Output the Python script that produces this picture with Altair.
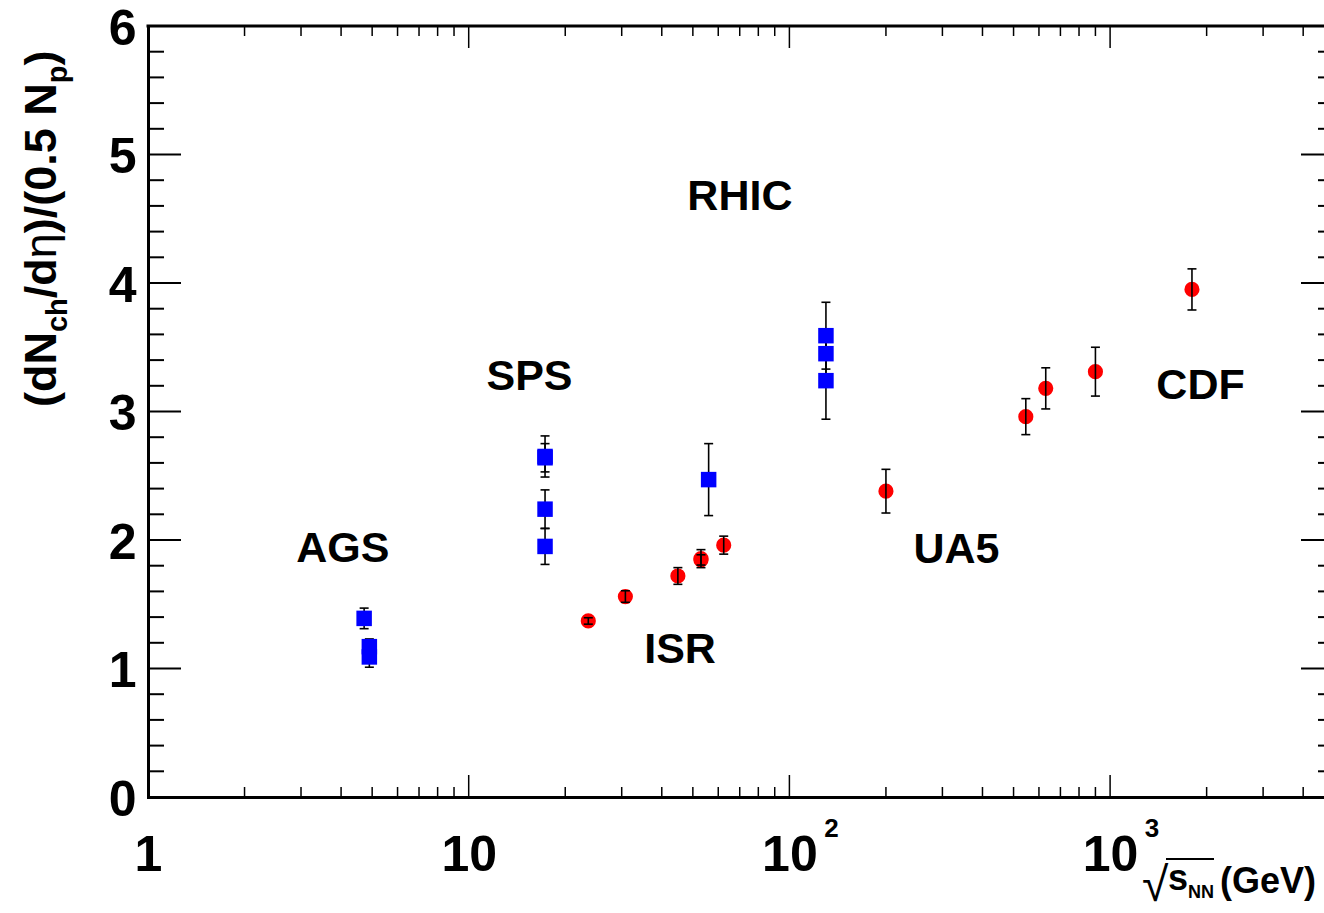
import altair as alt
import pandas as pd

# ---------------- data ----------------
# nucleus-nucleus collisions (blue squares): sqrt(s_NN) [GeV], value, symmetric error
aa_sqrt_s = [4.72, 4.90, 4.90, 17.3, 17.3, 17.3, 17.3, 56.0, 130.0, 130.0, 130.0]
aa_value = [1.39, 1.17, 1.09, 2.65, 2.64, 2.24, 1.95, 2.47, 3.59, 3.45, 3.24]
aa_error = [0.08, 0.06, 0.08, 0.16, 0.11, 0.15, 0.14, 0.28, 0.26, 0.17, 0.30]

# p-p / p-pbar collisions (red circles)
pp_sqrt_s = [23.6, 30.8, 44.9, 53.0, 53.0, 62.4, 200.0, 546.0, 630.0, 900.0, 1800.0]
pp_value = [1.37, 1.56, 1.72, 1.855, 1.845, 1.96, 2.38, 2.96, 3.18, 3.31, 3.95]
pp_error = [0.025, 0.045, 0.065, 0.07, 0.04, 0.07, 0.17, 0.14, 0.16, 0.19, 0.16]

# experiment labels (data coordinates)
label_text = ["AGS", "SPS", "RHIC", "ISR", "UA5", "CDF"]
label_x = [4.05, 15.47, 70.1, 45.6, 332.0, 1914.0]
label_y = [1.927, 3.272, 4.666, 1.146, 1.924, 3.202]

# axis ticks
x_major = [1, 10, 100, 1000]
x_minor = [2, 3, 4, 5, 6, 7, 8, 9,
           20, 30, 40, 50, 60, 70, 80, 90,
           200, 300, 400, 500, 600, 700, 800, 900,
           2000, 3000, 4000]
x_exp_at = [100, 1000]
x_exp_text = ["2", "3"]
y_major = [0, 1, 2, 3, 4, 5, 6]
y_minor = [0.2, 0.4, 0.6, 0.8, 1.2, 1.4, 1.6, 1.8, 2.2, 2.4, 2.6, 2.8,
           3.2, 3.4, 3.6, 3.8, 4.2, 4.4, 4.6, 4.8, 5.2, 5.4, 5.6, 5.8]

# ---------------- layout ----------------
W, H = 1176, 771
PAD_L, PAD_T, PAD_B = 148, 26, 113
XMAX = 4645
FRAME_R = 1186  # right frame lies just outside the visible area
FONT = "Liberation Sans"
BLACK = "#000000"

xs = alt.Scale(type="log", domain=[1, XMAX], nice=False)
ys = alt.Scale(domain=[0, 6], nice=False, zero=False)

aa = pd.DataFrame({"x": aa_sqrt_s, "y": aa_value, "e": aa_error})
aa["lo"] = aa["y"] - aa["e"]
aa["hi"] = aa["y"] + aa["e"]
pp = pd.DataFrame({"x": pp_sqrt_s, "y": pp_value, "e": pp_error})
pp["lo"] = pp["y"] - pp["e"]
pp["hi"] = pp["y"] + pp["e"]
labels = pd.DataFrame({"t": label_text, "x": label_x, "y": label_y})
xmaj = pd.DataFrame({"v": x_major})
xmin = pd.DataFrame({"v": x_minor})
ymaj = pd.DataFrame({"v": y_major})
ymin = pd.DataFrame({"v": y_minor})
xexp = pd.DataFrame({"v": x_exp_at, "t": x_exp_text})
one = pd.DataFrame({"a": [0]})

x_axis = alt.Axis(values=x_major, labelExpr="datum.value == 1 ? '1' : '10'",
                  ticks=False, tickSize=0, grid=False, domain=True,
                  domainColor=BLACK, domainWidth=3, domainCap="square",
                  labelFont=FONT, labelFontWeight="bold", labelFontSize=50,
                  labelColor=BLACK, labelPadding=73, labelBaseline="alphabetic",
                  labelAlign="center", labelFlush=False, labelOverlap=False,
                  labelBound=False, title=None)
y_axis = alt.Axis(values=y_major, format="d", ticks=False, tickSize=0, grid=False,
                  domain=True, domainColor=BLACK, domainWidth=3, domainCap="square",
                  labelFont=FONT, labelFontWeight="bold", labelFontSize=50,
                  labelColor=BLACK, labelPadding=12, labelBaseline="alphabetic",
                  labelOffset=18, labelFlush=False, labelOverlap=False,
                  labelBound=False, title=None)

X = lambda f: alt.X(f, type="quantitative", scale=xs, axis=x_axis)
Y = lambda f: alt.Y(f, type="quantitative", scale=ys, axis=y_axis)

layers = []

# red circles
layers.append(alt.Chart(pp).mark_circle(size=230, color="#ff0000", opacity=1).encode(
    x=X("x"), y=Y("y")))
# red error bars
layers.append(alt.Chart(pp).mark_rule(color=BLACK, strokeWidth=1.6).encode(
    x=X("x"), y=Y("lo"), y2="hi"))
layers.append(alt.Chart(pp).mark_tick(orient="horizontal", size=9, thickness=1.6, color=BLACK, opacity=1).encode(
    x=X("x"), y=Y("lo")))
layers.append(alt.Chart(pp).mark_tick(orient="horizontal", size=9, thickness=1.6, color=BLACK, opacity=1).encode(
    x=X("x"), y=Y("hi")))
# blue error bars then squares
layers.append(alt.Chart(aa).mark_rule(color=BLACK, strokeWidth=1.6).encode(
    x=X("x"), y=Y("lo"), y2="hi"))
layers.append(alt.Chart(aa).mark_tick(orient="horizontal", size=9, thickness=1.6, color=BLACK, opacity=1).encode(
    x=X("x"), y=Y("lo")))
layers.append(alt.Chart(aa).mark_tick(orient="horizontal", size=9, thickness=1.6, color=BLACK, opacity=1).encode(
    x=X("x"), y=Y("hi")))
layers.append(alt.Chart(aa).mark_point(shape="square", filled=True, size=240, color="#0000ff",
                                       opacity=1, strokeWidth=0).encode(
    x=X("x"), y=Y("y")))

# inward ticks: bottom / top
for df, ln in ((xmaj, 22), (xmin, 10)):
    layers.append(alt.Chart(df).mark_rule(color=BLACK, strokeWidth=1.5).encode(
        x=X("v"), y=alt.value(H), y2=alt.value(H - ln)))
    layers.append(alt.Chart(df).mark_rule(color=BLACK, strokeWidth=1.5).encode(
        x=X("v"), y=alt.value(0), y2=alt.value(ln)))
# inward ticks: left / right
for df, ln in ((ymaj, 33), (ymin, 16)):
    layers.append(alt.Chart(df).mark_rule(color=BLACK, strokeWidth=2).encode(
        y=Y("v"), x=alt.value(0), x2=alt.value(ln)))
    layers.append(alt.Chart(df).mark_rule(color=BLACK, strokeWidth=2).encode(
        y=Y("v"), x=alt.value(FRAME_R - ln), x2=alt.value(FRAME_R)))

# top frame line
layers.append(alt.Chart(one).mark_rule(color=BLACK, strokeWidth=3, strokeCap="square").encode(
    x=alt.value(0), x2=alt.value(FRAME_R), y=alt.value(0)))

# experiment labels
layers.append(alt.Chart(labels).mark_text(font=FONT, fontWeight="bold", fontSize=43,
                                          color=BLACK, align="center", baseline="middle").encode(
    x=X("x"), y=Y("y"), text="t:N"))

# exponents of the x tick labels
layers.append(alt.Chart(xexp).mark_text(font=FONT, fontWeight="bold", fontSize=26, color=BLACK,
                                        align="center", baseline="alphabetic", dx=42, dy=40).encode(
    x=X("v"), y=alt.value(H), text="t:N"))

# ---------------- y title: (dN_ch/deta)/(0.5 N_p), rotated ----------------
ADV = {"(": 333, ")": 333, "d": 611, "N": 722, "/": 278, "c": 556, "h": 611,
       "0": 556, ".": 278, "5": 556, " ": 278, "p": 611, "η": 556}
S_MAIN, S_SUB = 45, 29
base_x = -92
sub_x = base_x + 11
pieces = [("(dN", S_MAIN, "bold", base_x), ("ch", S_SUB, "bold", sub_x),
          ("/d", S_MAIN, "bold", base_x), ("η", S_MAIN, "normal", base_x),
          (")/(0.5 N", S_MAIN, "bold", base_x), ("p", S_SUB, "bold", sub_x),
          (")", S_MAIN, "bold", base_x)]
ypos = 381.0
for txt, sz, wt, bx in pieces:
    layers.append(alt.Chart(one).mark_text(text=txt, font=FONT, fontWeight=wt, fontSize=sz,
                                           color=BLACK, angle=270, align="left",
                                           baseline="alphabetic").encode(
        x=alt.value(bx), y=alt.value(ypos)))
    ypos -= sum(ADV[c] for c in txt) / 1000.0 * sz

# ---------------- x title: sqrt(s_NN) (GeV) ----------------
layers.append(alt.Chart(one).mark_text(text="√", font=FONT, fontWeight="normal", fontSize=48,
                                       color=BLACK, align="left", baseline="alphabetic").encode(
    x=alt.value(1142 - PAD_L), y=alt.value(901 - PAD_T)))
layers.append(alt.Chart(one).mark_rule(color=BLACK, strokeWidth=2).encode(
    x=alt.value(1166 - PAD_L), x2=alt.value(1214 - PAD_L), y=alt.value(859 - PAD_T)))
layers.append(alt.Chart(one).mark_text(text="s", font=FONT, fontWeight="bold", fontSize=36,
                                       color=BLACK, align="left", baseline="alphabetic").encode(
    x=alt.value(1168 - PAD_L), y=alt.value(890 - PAD_T)))
layers.append(alt.Chart(one).mark_text(text="NN", font=FONT, fontWeight="bold", fontSize=18,
                                       color=BLACK, align="left", baseline="alphabetic").encode(
    x=alt.value(1188 - PAD_L), y=alt.value(898 - PAD_T)))
layers.append(alt.Chart(one).mark_text(text="(GeV)", font=FONT, fontWeight="bold", fontSize=36,
                                       color=BLACK, align="left", baseline="alphabetic").encode(
    x=alt.value(1220 - PAD_L), y=alt.value(893 - PAD_T)))

chart = alt.layer(*layers).properties(
    width=W, height=H,
    autosize=alt.AutoSizeParams(type="none"),
    padding={"left": PAD_L, "top": PAD_T, "right": 0, "bottom": PAD_B},
    background="white",
).configure_view(stroke="transparent")

chart.save("out.html", embed_options={"renderer": "svg", "actions": False})
